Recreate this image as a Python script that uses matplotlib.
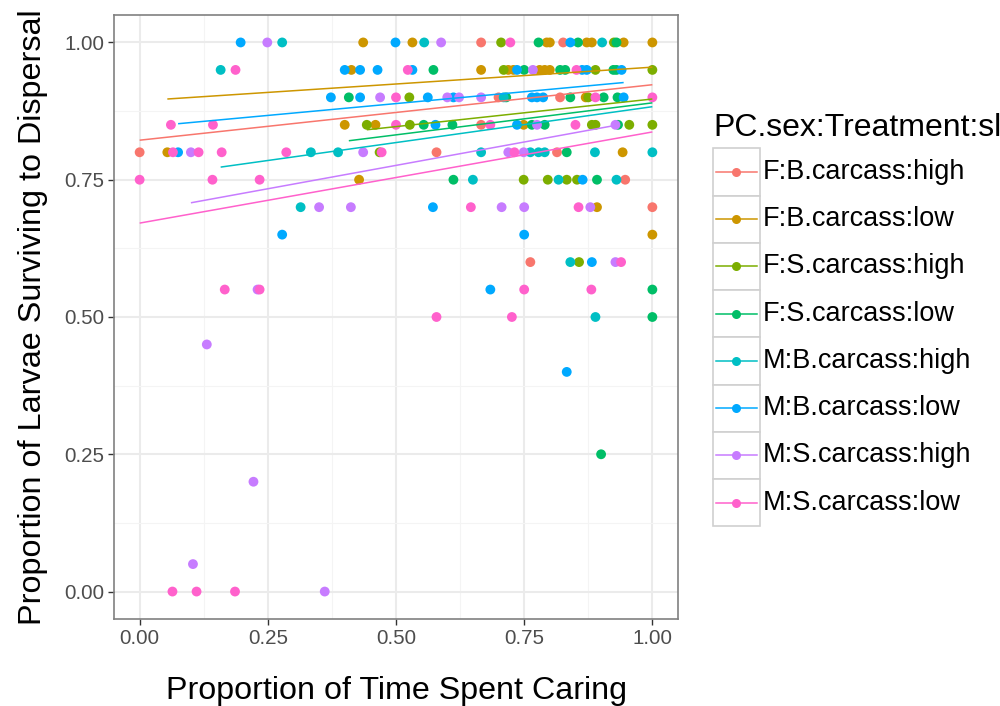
import matplotlib
matplotlib.use("Agg")
import matplotlib.pyplot as plt
from matplotlib.lines import Line2D
from matplotlib.patches import Rectangle
import numpy as np

plt.rcParams['font.family'] = ['Liberation Sans', 'DejaVu Sans']

# ---- data -------------------------------------------------------------
groups = ["F:B.carcass:high", "F:B.carcass:low", "F:S.carcass:high", "F:S.carcass:low",
          "M:B.carcass:high", "M:B.carcass:low", "M:S.carcass:high", "M:S.carcass:low"]
colors = ["#F8766D", "#CD9600", "#7CAE00", "#00BE67",
          "#00BFC4", "#00A9FF", "#C77CFF", "#FF61CC"]

fbh_x = [0.666, 0.826, 0.70, 0.82, 0.666, 0.0, 0.579, 0.814, 0.947, 1.0, 0.762]
fbh_y = [1.00, 1.00, 0.90, 0.90, 0.85, 0.80, 0.80, 0.80, 0.75, 0.70, 0.60]

fbl_x = [0.436, 0.532, 0.794, 0.80, 0.872, 0.882, 0.944, 1.0,
         0.413, 0.666, 0.719, 0.729, 0.78, 0.79, 0.80,
         0.87, 0.40, 0.46, 0.749, 0.054, 0.942, 0.428, 0.892, 1.0]
fbl_y = [1.00] * 8 + [0.95] * 7 + [0.90, 0.85, 0.85, 0.85, 0.80, 0.80, 0.75, 0.70, 0.65]

fsh_x = [0.705, 0.925, 0.71, 0.889, 1.0, 0.526, 0.875,
         0.443, 0.527, 0.882, 0.889, 0.955, 1.0, 0.468,
         0.749, 0.796, 0.833, 0.853, 0.857]
fsh_y = [1.00, 1.00, 0.95, 0.95, 0.95, 0.90, 0.90,
         0.85, 0.85, 0.85, 0.85, 0.85, 0.85, 0.80,
         0.75, 0.75, 0.75, 0.75, 0.60]

fsl_x = [0.778, 0.855, 0.93, 0.573, 0.75, 0.82, 0.83, 0.924, 0.93,
         0.408, 0.715, 0.84, 0.905, 0.932, 0.554, 0.61, 0.765, 0.79, 0.933,
         0.833, 0.612, 0.892, 1.0, 1.0, 0.9]
fsl_y = [1.00] * 3 + [0.95] * 6 + [0.90] * 5 + [0.85] * 5 + \
        [0.80, 0.75, 0.75, 0.55, 0.50, 0.25]

mbh_x = [0.278, 0.555, 0.902, 0.158, 0.71,
         0.334, 0.387, 0.666, 0.762, 0.778, 0.79, 0.888, 1.0,
         0.65, 0.817, 0.93, 0.314, 0.84, 0.889]
mbh_y = [1.00, 1.00, 1.00, 0.95, 0.90] + [0.80] * 8 + \
        [0.75, 0.75, 0.75, 0.70, 0.60, 0.50]

mbl_x = [0.197, 0.499, 0.84,
         0.40, 0.43, 0.464, 0.532, 0.736, 0.863, 0.872, 0.94,
         0.373, 0.43, 0.562, 0.612, 0.765, 0.775, 0.787, 0.944,
         0.577, 0.736, 0.075, 0.864, 0.572, 0.278, 0.75, 0.882, 0.684, 0.833]
mbl_y = [1.00] * 3 + [0.95] * 8 + [0.90] * 8 + \
        [0.85, 0.85, 0.80, 0.75, 0.70, 0.65, 0.65, 0.60, 0.55, 0.40]

msh_x = [0.249, 0.588, 0.767, 0.469, 0.60, 0.623, 0.666, 0.775, 0.928,
         0.10, 0.436, 0.719, 0.749, 0.35, 0.412, 0.706, 0.75, 0.879,
         0.928, 0.23, 0.131, 0.222, 0.104, 0.361]
msh_y = [1.00, 1.00, 0.95, 0.90, 0.90, 0.90, 0.90, 0.85, 0.85,
         0.80, 0.80, 0.80, 0.80, 0.70, 0.70, 0.70, 0.70, 0.70,
         0.60, 0.55, 0.45, 0.20, 0.05, 0.00]

msl_x = [0.723, 0.187, 0.523, 0.852, 0.50, 0.889, 1.0,
         0.061, 0.143, 0.50, 0.684, 0.85,
         0.065, 0.115, 0.16, 0.286, 0.472, 0.731,
         0.0, 0.142, 0.234, 0.646, 0.856, 0.939,
         0.166, 0.234, 0.75, 0.881, 0.579, 0.726, 0.064, 0.111, 0.186]
msl_y = [1.00, 0.95, 0.95, 0.95, 0.90, 0.90, 0.90,
         0.85, 0.85, 0.85, 0.85, 0.85,
         0.80, 0.80, 0.80, 0.80, 0.80, 0.80,
         0.75, 0.75, 0.75, 0.70, 0.70, 0.60,
         0.55, 0.55, 0.55, 0.55, 0.50, 0.50, 0.00, 0.00, 0.00]

group_x = [fbh_x, fbl_x, fsh_x, fsl_x, mbh_x, mbl_x, msh_x, msl_x]
group_y = [fbh_y, fbl_y, fsh_y, fsl_y, mbh_y, mbl_y, msh_y, msl_y]

# fitted trend per group: value at the group's smallest and largest x
trend_start = [0.822, 0.897, 0.841, 0.821, 0.773, 0.852, 0.708, 0.671]
trend_end = [0.923, 0.955, 0.897, 0.890, 0.883, 0.927, 0.849, 0.837]

ticks = [0.00, 0.25, 0.50, 0.75, 1.00]
tick_labels = ["0.00", "0.25", "0.50", "0.75", "1.00"]

# ---- figure -----------------------------------------------------------
W, H = 1000, 706
fig = plt.figure(figsize=(W / 100, H / 100), dpi=100)


def fx(px):
    return px / W


def fy(py):
    return 1 - py / H


ax_left, ax_right = 114, 678
ax = fig.add_axes([fx(ax_left), fy(619), fx(ax_right) - fx(ax_left), fy(15) - fy(619)])
ax.set_xlim(-0.05, 1.05)
ax.set_ylim(-0.05, 1.05)
ax.set_facecolor("white")

ax.set_xticks(ticks)
ax.set_yticks(ticks)
ax.set_xticklabels(tick_labels)
ax.set_yticklabels(tick_labels)
ax.set_xticks([0.125, 0.375, 0.625, 0.875], minor=True)
ax.set_yticks([0.125, 0.375, 0.625, 0.875], minor=True)
ax.grid(which="major", color="#EBEBEB", lw=1.5, zorder=0)
ax.grid(which="minor", color="#F4F4F4", lw=0.8, zorder=0)
ax.set_axisbelow(True)
ax.tick_params(which="major", length=4, width=1, color="#333333",
               labelcolor="#4D4D4D", labelsize=14.8, pad=3)
ax.tick_params(which="minor", length=0)
for sp in ax.spines.values():
    sp.set_color("#808080")
    sp.set_linewidth(1.2)

for gx, gy, c in zip(group_x, group_y, colors):
    ax.scatter(gx, gy, s=50, color=c, edgecolors="none", zorder=3)

for gx, y0, y1, c in zip(group_x, trend_start, trend_end, colors):
    ax.plot([min(gx), max(gx)], [y0, y1], color=c, lw=1.1, zorder=4,
            solid_capstyle="butt")

ax.set_xlabel("Proportion of Time Spent Caring", fontsize=23.2, color="black", labelpad=20)
ax.set_ylabel("Proportion of Larvae Surviving to Dispersal", fontsize=23.3, color="black")
ax.yaxis.set_label_coords((48 - ax_left) / (ax_right - ax_left), 0.5)

# ---- legend -----------------------------------------------------------
fig.text(fx(713), fy(128), "PC.sex:Treatment:sl", fontsize=23,
         va="center", ha="left", color="black")
key_top, key_h, key_w, key_left = 148.5, 47.2, 46.5, 713
for i, (name, c) in enumerate(zip(groups, colors)):
    top = key_top + i * key_h
    fig.add_artist(Rectangle((fx(key_left), fy(top + key_h)), fx(key_w), key_h / H,
                             transform=fig.transFigure, facecolor="white",
                             edgecolor="#D0D0D0", lw=1.2))
    cy = fy(top + key_h / 2)
    fig.add_artist(Line2D([fx(key_left + 3), fx(key_left + key_w - 3)], [cy, cy],
                          transform=fig.transFigure, color=c, lw=1.1))
    fig.add_artist(Line2D([fx(key_left + key_w / 2)], [cy], transform=fig.transFigure,
                          marker="o", markersize=6.5, color=c, markeredgewidth=0))
    fig.text(fx(763), cy, name, fontsize=19.5, va="center", ha="left", color="black")

fig.savefig("out.png", dpi=100, facecolor="white")
